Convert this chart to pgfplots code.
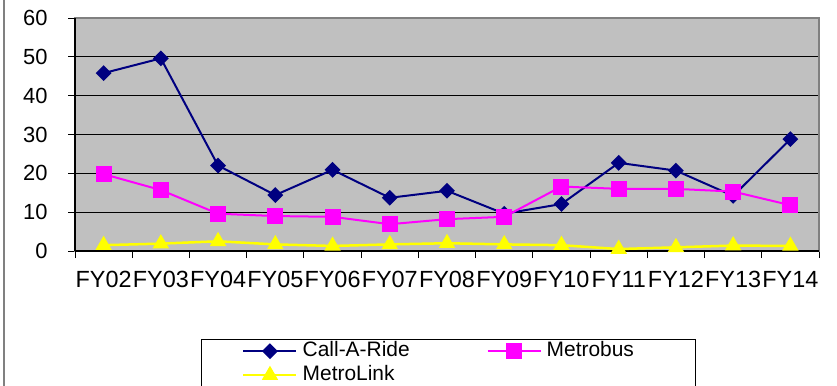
\documentclass[border=0pt]{standalone}
\usepackage{pgfplots}
\pgfplotsset{compat=1.18}
\usepackage{fontspec}
\setmainfont{Liberation Sans}

\definecolor{plotgray}{HTML}{C0C0C0}
\definecolor{framegray}{HTML}{808080}
\definecolor{carnavy}{HTML}{000080}
\definecolor{busmag}{HTML}{FF00FF}
\definecolor{linkyel}{HTML}{FFFF00}

\newcommand\yfont{\fontsize{22}{24}\selectfont}
\newcommand\xfont{\fontsize{23.5}{26}\selectfont}

\begin{document}
\begin{tikzpicture}[x=1bp,y=1bp]
\useasboundingbox (0,0) rectangle (837,385);
% outer chart border on the left
\draw[framegray, line width=2bp] (4,-5) -- (4,390);
\begin{axis}[
  at={(75bp,134bp)}, anchor=south west,
  scale only axis, width=744bp, height=233bp,
  xmin=-0.5, xmax=12.5, ymin=0, ymax=60,
  axis background/.style={fill=plotgray},
  axis line style={draw=framegray, line width=2bp},
  ytick={0,10,...,60},
  ymajorgrids, major grid style={black, line width=0.9bp},
  % tick marks between categories, names centred under each category
  xtick={-0.5,0.5,...,12.5},
  xticklabels={},
  extra x ticks={0,...,12},
  extra x tick labels={FY02,FY03,FY04,FY05,FY06,FY07,FY08,FY09,FY10,FY11,FY12,FY13,FY14},
  extra x tick style={tick style={draw=none}},
  tick pos=left, tick align=outside,
  major tick length=7bp,
  tick style={black, line width=0.9bp},
  /pgf/number format/assume math mode=true,
  yticklabel style={xshift=-17bp, font=\yfont},
  xticklabel style={yshift=-10bp, font=\xfont, inner xsep=0pt},
  clip=false,
  legend style={draw=none, fill=none, inner sep=0pt,
    at={(axis description cs:0.2245,-0.384)}, anchor=north west,
    font=\fontsize{21}{24}\selectfont,
    nodes={inner sep=1bp, text height=15bp, text depth=4bp},
    row sep=3bp,
    /tikz/every odd column/.append style={column sep=4bp},
    /tikz/every even column/.append style={column sep=76bp}},
  legend columns=2, legend cell align=left,
  legend image code/.code={\draw[mark repeat=2,mark phase=2,#1]
    plot coordinates {(0bp,0bp) (26.5bp,0bp) (53bp,0bp)};},
]
\draw[black, line width=1.2bp] (rel axis cs:0,0) -- (rel axis cs:0,1);
\draw[black, line width=1.2bp] (rel axis cs:0,0) -- (rel axis cs:1,0);

\addplot[carnavy, line width=2bp, mark=square*, mark size=4.6bp,
  mark options={rotate=45, solid, fill=carnavy}]
  coordinates {(0,45.8) (1,49.6) (2,22.0) (3,14.4) (4,20.9) (5,13.7) (6,15.5)
               (7,9.6) (8,12.1) (9,22.7) (10,20.7) (11,14.2) (12,28.8)};
\addlegendentry{Call-A-Ride}

\addplot[busmag, line width=2bp, mark=square*, mark size=7bp,
  mark options={solid, fill=busmag}]
  coordinates {(0,19.8) (1,15.7) (2,9.6) (3,9.0) (4,8.8) (5,6.9) (6,8.2)
               (7,8.8) (8,16.6) (9,16.0) (10,16.0) (11,15.3) (12,11.8)};
\addlegendentry{Metrobus}

\addplot[linkyel, line width=2.5bp, mark=triangle*, mark size=7bp,
  mark options={solid, fill=linkyel}]
  coordinates {(0,1.5) (1,1.9) (2,2.5) (3,1.7) (4,1.3) (5,1.7) (6,2.0)
               (7,1.7) (8,1.5) (9,0.5) (10,0.95) (11,1.4) (12,1.3)};
\addlegendentry{MetroLink}
\end{axis}
% legend frame
\draw[black, line width=1bp] (201,46) rectangle (695,-20);
\end{tikzpicture}
\end{document}
